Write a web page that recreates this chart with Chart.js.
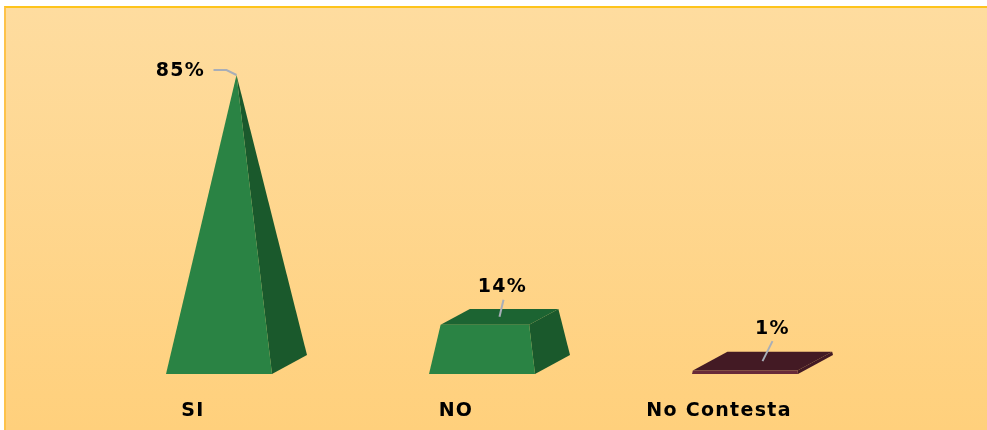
<!DOCTYPE html>
<html>
<head>
<meta charset="utf-8">
<title>Chart</title>
<style>
	html, body { margin: 0; padding: 0; background: #fff; }
	#frame {
		position: absolute; left: 4px; top: 6px; width: 981px; height: 422px;
		border-left: 2px solid #fdc24a; border-top: 2px solid #fec41c;
		background: linear-gradient(#fedc9f, #ffd07c);
	}
	#wrap { position: absolute; left: 0; top: 0; width: 987px; height: 430px; }
</style>
<script src="https://cdn.jsdelivr.net/npm/chart.js@4"></script>
</head>
<body>
<div id="frame"></div>
<div id="wrap"><canvas id="pyramidChart" width="987" height="430"></canvas></div>
<script>
// Chart values
let categories = ['SI', 'NO', 'No Contesta'];
let values = [85, 14, 1];

// Colours for each pyramid
let frontColors = ['#2a8344', '#2a8344', '#682a38'];
let sideColors = ['#1a592c', '#1a592c', '#431a24'];
let topColors = ['#1c6432', '#1c6432', '#431a24'];

// Where each label sits, relative to the top of its pyramid
let labelOffsets = [[-56, -4], [3, -30], [10, -32]];
// Leader line points, relative to the same spot
let leaderPoints = [
	[[-23, -5], [-10, -5], [0, 0]],
	[[4, -17], [0, 0]],
	[[10, -20], [0, 0]],
];

// Base of the pyramid runs back by this much
const depthX = 35;
const depthY = -19;
const labelFont = 'bold 19px "DejaVu Sans"';

function face(ctx, points, color) {
	ctx.beginPath();
	points.forEach((p, i) => i ? ctx.lineTo(p[0], p[1]) : ctx.moveTo(p[0], p[1]));
	ctx.closePath();
	ctx.fillStyle = color;
	ctx.fill();
}

// Draws the 3D pyramids on top of the (invisible) bars
let pyramidPlugin = {
	id: 'pyramids',
	beforeDraw(chart) {
		chart.ctx.letterSpacing = '1.3px';
	},
	afterDatasetsDraw(chart) {
		let ctx = chart.ctx;
		let scale = chart.scales.y;
		let apexY = scale.getPixelForValue(scale.max);

		chart.getDatasetMeta(0).data.forEach((bar, i) => {
			let half = bar.width / 2;
			let base = bar.base;
			let t = (base - bar.y) / (base - apexY);
			let apexX = bar.x + depthX / 2;

			// Slide a base corner up towards the apex
			let up = (x, y) => [x + (apexX - x) * t, y + (apexY - y) * t];

			let fl = [bar.x - half, base];
			let fr = [bar.x + half, base];
			let br = [bar.x + half + depthX, base + depthY];
			let bl = [bar.x - half + depthX, base + depthY];
			let tfl = up(fl[0], fl[1]);
			let tfr = up(fr[0], fr[1]);
			let tbr = up(br[0], br[1]);
			let tbl = up(bl[0], bl[1]);

			face(ctx, [fr, br, tbr, tfr], sideColors[i]);
			face(ctx, [tfl, tfr, tbr, tbl], topColors[i]);
			face(ctx, [fl, fr, tfr, tfl], frontColors[i]);

			// Value label and its leader line
			let anchorX = (tfl[0] + tbr[0]) / 2;
			let anchorY = (tfl[1] + tbr[1]) / 2;

			ctx.beginPath();
			leaderPoints[i].forEach((p, k) => {
				if (k) ctx.lineTo(anchorX + p[0], anchorY + p[1]);
				else ctx.moveTo(anchorX + p[0], anchorY + p[1]);
			});
			ctx.strokeStyle = '#a8aeb8';
			ctx.lineWidth = 2;
			ctx.stroke();

			ctx.font = labelFont;
			ctx.fillStyle = '#000';
			ctx.textAlign = 'center';
			ctx.textBaseline = 'middle';
			ctx.fillText(values[i] + '%', anchorX + labelOffsets[i][0], anchorY + labelOffsets[i][1]);
		});
	}
};

new Chart(document.querySelector('#pyramidChart'), {
	type: 'bar',
	data: {
		labels: categories,
		datasets: [{
			data: values,
			backgroundColor: 'transparent',
			categoryPercentage: 1,
			barPercentage: 0.403,
		}]
	},
	options: {
		responsive: false,
		animation: false,
		layout: { padding: { left: 87.5, right: 110.5, top: 75, bottom: 0 } },
		plugins: { legend: { display: false }, tooltip: { enabled: false } },
		scales: {
			x: {
				grid: { display: false },
				border: { display: false },
				afterFit: axis => { axis.height = 56; },
				ticks: {
					autoSkip: false,
					maxRotation: 0,
					padding: 18,
					labelOffset: -26,
					color: '#000',
					font: { family: '"DejaVu Sans"', size: 19, weight: 'bold' },
				}
			},
			y: { display: false, min: 0, max: 85 }
		}
	},
	plugins: [pyramidPlugin]
});
</script>
</body>
</html>
